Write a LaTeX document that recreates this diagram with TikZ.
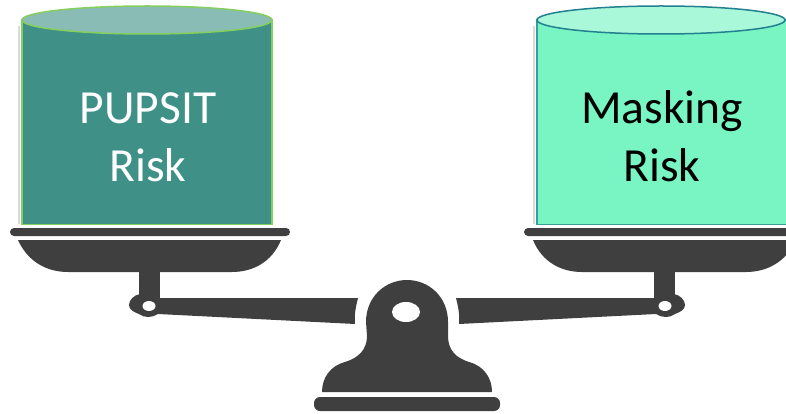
\documentclass[tikz,border=0pt]{standalone}
\usepackage{fontspec}
\setmainfont{Carlito}
\definecolor{ink}{HTML}{3F3F40}
\definecolor{tealbody}{HTML}{3F9188}
\definecolor{tealtop}{HTML}{8ABCB6}
\definecolor{tealedge}{HTML}{85CF5E}
\definecolor{mintbody}{HTML}{78F5C3}
\definecolor{minttop}{HTML}{A9F8D9}
\definecolor{mintedge}{HTML}{23808F}
\tikzset{
  x=1pt,y=-1pt,
  metal/.style={fill=ink,draw=none},
  hole/.style={fill=white,draw=none},
  label/.style={font=\fontsize{47.5}{57}\selectfont,align=center,inner sep=0pt,anchor=base},
  softshade/.style={draw=black!14,line width=2pt},
  arm/.pic={
    \fill[metal,rounded corners=4pt] (10,228) rectangle (290,236);
    \fill[metal] (18,240) -- (281,240) .. controls (272,262) and (253,272) .. (232,272)
      -- (68,272) .. controls (47,272) and (28,262) .. (18,240) -- cycle;
    \fill[metal] (139,270) rectangle (160,300);
    \fill[metal] (358,298) -- (160,298) -- (140,294) .. controls (134,295) and (129,300) .. (129,305)
      .. controls (129,310) and (134,312) .. (139,314) .. controls (144,318) and (152,318) .. (158,314)
      -- (355,324) .. controls (354,315) and (356,306) .. (358,298) -- cycle;
    \fill[hole] (149,306) ellipse [x radius=6.5,y radius=5];
  }
}
\begin{document}
\begin{tikzpicture}
\useasboundingbox (0,0) rectangle (786,414);
\clip (0,0) rectangle (786,414);
% left cylinder
\draw[softshade] (19,26) -- (19,224);
\draw[draw=tealedge,line width=1.5pt,fill=tealbody] (22,20) -- (22,224) -- (272,224) -- (272,20) -- cycle;
\draw[draw=tealedge,line width=1.5pt,fill=tealtop] (147,20) ellipse [x radius=125,y radius=14];
\fill[tealbody] (23,224) rectangle (271,221);
% right cylinder
\draw[softshade] (534,26) -- (534,224);
\draw[draw=mintedge!75!mintbody,line width=1.5pt,fill=mintbody] (537,20) -- (537,224) -- (787,224) -- (787,20) -- cycle;
\draw[draw=mintedge,line width=1.5pt,fill=minttop] (661,20) ellipse [x radius=124,y radius=14];
\fill[mintbody] (538,224) rectangle (786,221);
% labels
\node[label,text=white] (pupsit) at (148,124) {PUPSIT};
\node[label,text=white] (pupsitrisk) at (148,181) {Risk};
\node[label,text=black] (masking) at (662,124) {Masking};
\node[label,text=black] (maskingrisk) at (662,181) {Risk};
% scale arms
\pic at (0,0) {arm};
\pic[xscale=-1] at (814,0) {arm};
% centre post
\fill[metal] (322,392) .. controls (322,378) and (330,366) .. (345,362)
  .. controls (358,358) and (367,350) .. (367,336)
  -- (366,322) .. controls (366,297) and (385,280) .. (407,280)
  .. controls (429,280) and (448,297) .. (448,322)
  -- (448,336) .. controls (448,350) and (456,358) .. (469,362)
  .. controls (484,366) and (492,378) .. (492,392) -- cycle;
\fill[hole] (406,312) ellipse [x radius=14,y radius=10];
\fill[metal,rounded corners=6pt] (314,397) rectangle (500,411);
\end{tikzpicture}
\end{document}
